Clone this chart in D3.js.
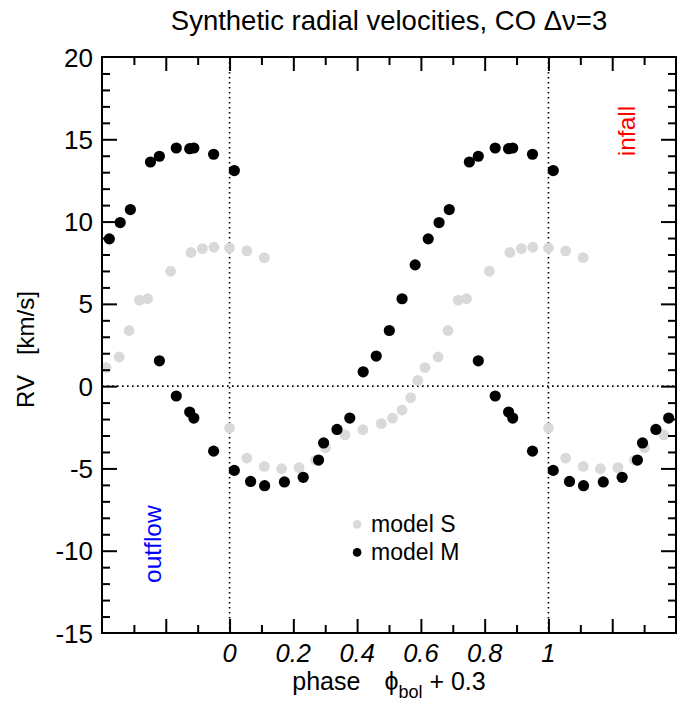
<!DOCTYPE html>
<html>
<head>
<meta charset="utf-8">
<script src="https://cdn.jsdelivr.net/npm/d3@7"></script>
<style>
  html, body { margin: 0; padding: 0; background: #fff; }
  svg { display: block; font-family: "Liberation Sans", Arial, Helvetica, sans-serif; }
</style>
</head>
<body>
<svg id="chart" width="687" height="704"></svg>
<script>
// Model S radial velocities over one pulsation cycle: [phase, RV km/s]
const modelSPhase = [0.000, 0.000, 0.054, 0.054, 0.109, 0.109, 0.163, 0.218, 0.270, 0.301,
                     0.362, 0.418, 0.476, 0.511, 0.541, 0.568, 0.590, 0.613, 0.654, 0.685,
                     0.717, 0.743, 0.815, 0.879, 0.915, 0.951];
const modelSRV    = [8.40, -2.54, 8.22, -4.37, 7.81, -4.88, -5.02, -4.95, -4.50, -3.74,
                     -2.96, -2.65, -2.28, -1.94, -1.45, -0.70, 0.35, 1.13, 1.77, 3.38,
                     5.23, 5.31, 6.98, 8.12, 8.36, 8.44];

// Model M radial velocities over one pulsation cycle
const modelMPhase = [0.015, 0.015, 0.066, 0.110, 0.172, 0.231, 0.279, 0.295, 0.337, 0.377,
                     0.419, 0.460, 0.501, 0.541, 0.582, 0.623, 0.657, 0.689, 0.752, 0.780,
                     0.780, 0.833, 0.833, 0.875, 0.875, 0.888, 0.888, 0.950, 0.950];
const modelMRV    = [13.10, -5.12, -5.79, -6.05, -5.82, -5.54, -4.49, -3.45, -2.63, -1.94,
                     0.87, 1.83, 3.38, 5.31, 7.37, 8.95, 9.94, 10.73, 13.62, 13.97,
                     1.54, 14.47, -0.60, 14.43, -1.57, 14.47, -1.94, 14.09, -3.95];

// Cycles shown side by side on the phase axis
const cycleShifts = [-1, 0, 1];

const xDomain = [-0.4, 1.4];
const yDomain = [-15, 20];
const xLabelTicks = [0, 0.2, 0.4, 0.6, 0.8, 1];
const yLabelTicks = [-15, -10, -5, 0, 5, 10, 15, 20];

const W = 687, H = 704;
const margin = { left: 102, right: 11, top: 57, bottom: 71 };
const iw = W - margin.left - margin.right;
const ih = H - margin.top - margin.bottom;

const svg = d3.select("#chart");
const g = svg.append("g").attr("transform", `translate(${margin.left},${margin.top})`);

const x = d3.scaleLinear().domain(xDomain).range([0, iw]);
const y = d3.scaleLinear().domain(yDomain).range([ih, 0]);

// Repeat one cycle at each phase shift, keeping what falls inside the axis range
function unfold(phase, rv) {
  const pts = [];
  cycleShifts.forEach(s => {
    phase.forEach((p, i) => {
      const ph = p + s;
      if (ph >= xDomain[0] && ph <= xDomain[1]) pts.push({ ph, rv: rv[i] });
    });
  });
  return pts;
}

// Dotted reference lines
const dotted = { stroke: "#000", "stroke-width": 1.6, "stroke-dasharray": "1.6,3.4" };
[0, 1].forEach(v => {
  const l = g.append("line").attr("x1", x(v)).attr("x2", x(v)).attr("y1", 0).attr("y2", ih);
  Object.entries(dotted).forEach(([k, val]) => l.attr(k, val));
});
{
  const l = g.append("line").attr("x1", 0).attr("x2", iw).attr("y1", y(0)).attr("y2", y(0));
  Object.entries(dotted).forEach(([k, val]) => l.attr(k, val));
}

// Data points
g.append("g").selectAll("circle").data(unfold(modelSPhase, modelSRV)).join("circle")
  .attr("cx", d => x(d.ph)).attr("cy", d => y(d.rv)).attr("r", 5.4).attr("fill", "#d9d9d9");
g.append("g").selectAll("circle").data(unfold(modelMPhase, modelMRV)).join("circle")
  .attr("cx", d => x(d.ph)).attr("cy", d => y(d.rv)).attr("r", 5.6).attr("fill", "#000");

// Axes: ticks inward on all four sides
const xMinor = d3.range(-3, 14).map(i => i / 10);
const yMinor = d3.range(-14, 20);
const xIsMajor = v => Math.abs(Math.round(v * 10)) % 2 === 0;
const yIsMajor = v => v % 5 === 0;

function styleAxis(sel) {
  sel.select(".domain").remove();
  sel.selectAll(".tick line").attr("stroke", "#000").attr("stroke-width", 2);
}

const axBottom = g.append("g").attr("transform", `translate(0,${ih})`)
  .call(d3.axisBottom(x).tickValues(xMinor).tickSize(0).tickFormat(""));
axBottom.selectAll(".tick line").attr("y2", d => xIsMajor(d) ? -14 : -8);
styleAxis(axBottom);

const axTop = g.append("g")
  .call(d3.axisTop(x).tickValues(xMinor).tickSize(0).tickFormat(""));
axTop.selectAll(".tick line").attr("y2", d => xIsMajor(d) ? 14 : 8);
styleAxis(axTop);

const axLeft = g.append("g")
  .call(d3.axisLeft(y).tickValues(yMinor).tickSize(0).tickFormat(""));
axLeft.selectAll(".tick line").attr("x2", d => yIsMajor(d) ? 15 : 8);
styleAxis(axLeft);

const axRight = g.append("g").attr("transform", `translate(${iw},0)`)
  .call(d3.axisRight(y).tickValues(yMinor).tickSize(0).tickFormat(""));
axRight.selectAll(".tick line").attr("x2", d => yIsMajor(d) ? -15 : -8);
styleAxis(axRight);

// Frame
g.append("rect").attr("x", 0).attr("y", 0).attr("width", iw).attr("height", ih)
  .attr("fill", "none").attr("stroke", "#000").attr("stroke-width", 2);

// Tick labels
g.append("g").selectAll("text").data(yLabelTicks).join("text")
  .attr("x", -9).attr("y", d => y(d) + 9.5)
  .attr("text-anchor", "end").attr("font-size", 26).text(d => d);

g.append("g").selectAll("text").data(xLabelTicks).join("text")
  .attr("x", d => x(d)).attr("y", ih + 29)
  .attr("text-anchor", "middle").attr("font-size", 25.5)
  .attr("font-style", "italic").text(d => d3.format("~g")(d));

// Title
svg.append("text").attr("x", margin.left + iw / 2).attr("y", 30)
  .attr("text-anchor", "middle").attr("font-size", 27.5)
  .text("Synthetic radial velocities, CO \u0394\u03BD=3");

// X axis title
const xt = svg.append("text").attr("x", margin.left + iw / 2).attr("y", 690)
  .attr("text-anchor", "middle").attr("font-size", 25);
xt.append("tspan").text("phase");
xt.append("tspan").attr("dx", 24).text("\u03D5");
xt.append("tspan").attr("font-size", 18).attr("dy", 8).text("bol");
xt.append("tspan").attr("dy", -8).text(" + 0.3");

// Y axis title
const yt = svg.append("text").attr("transform", "translate(34,408) rotate(-90)")
  .attr("font-size", 24);
yt.append("tspan").text("RV");
yt.append("tspan").attr("dx", 20).text("[km/s]");

// Annotations
g.append("text").attr("transform", `translate(${x(-0.22) + 2},${y(-9.6)}) rotate(-90)`)
  .attr("text-anchor", "middle").attr("font-size", 24.5).attr("fill", "#0000ff").text("outflow");
g.append("text").attr("transform", `translate(${x(1.25) + 7},${y(15.5)}) rotate(-90)`)
  .attr("text-anchor", "middle").attr("font-size", 24.5).attr("fill", "#ff0000").text("infall");

// Legend
const legend = g.append("g").attr("transform", `translate(${x(0.4)},${y(-8.4)})`);
const legendItems = [
  { label: "model S", color: "#d9d9d9" },
  { label: "model M", color: "#000" }
];
legendItems.forEach((it, i) => {
  const row = legend.append("g").attr("transform", `translate(0,${i * 28})`);
  row.append("circle").attr("cx", 0).attr("cy", 0).attr("r", 4.3).attr("fill", it.color);
  row.append("text").attr("x", 14).attr("y", 8).attr("font-size", 23).text(it.label);
});
</script>
</body>
</html>
